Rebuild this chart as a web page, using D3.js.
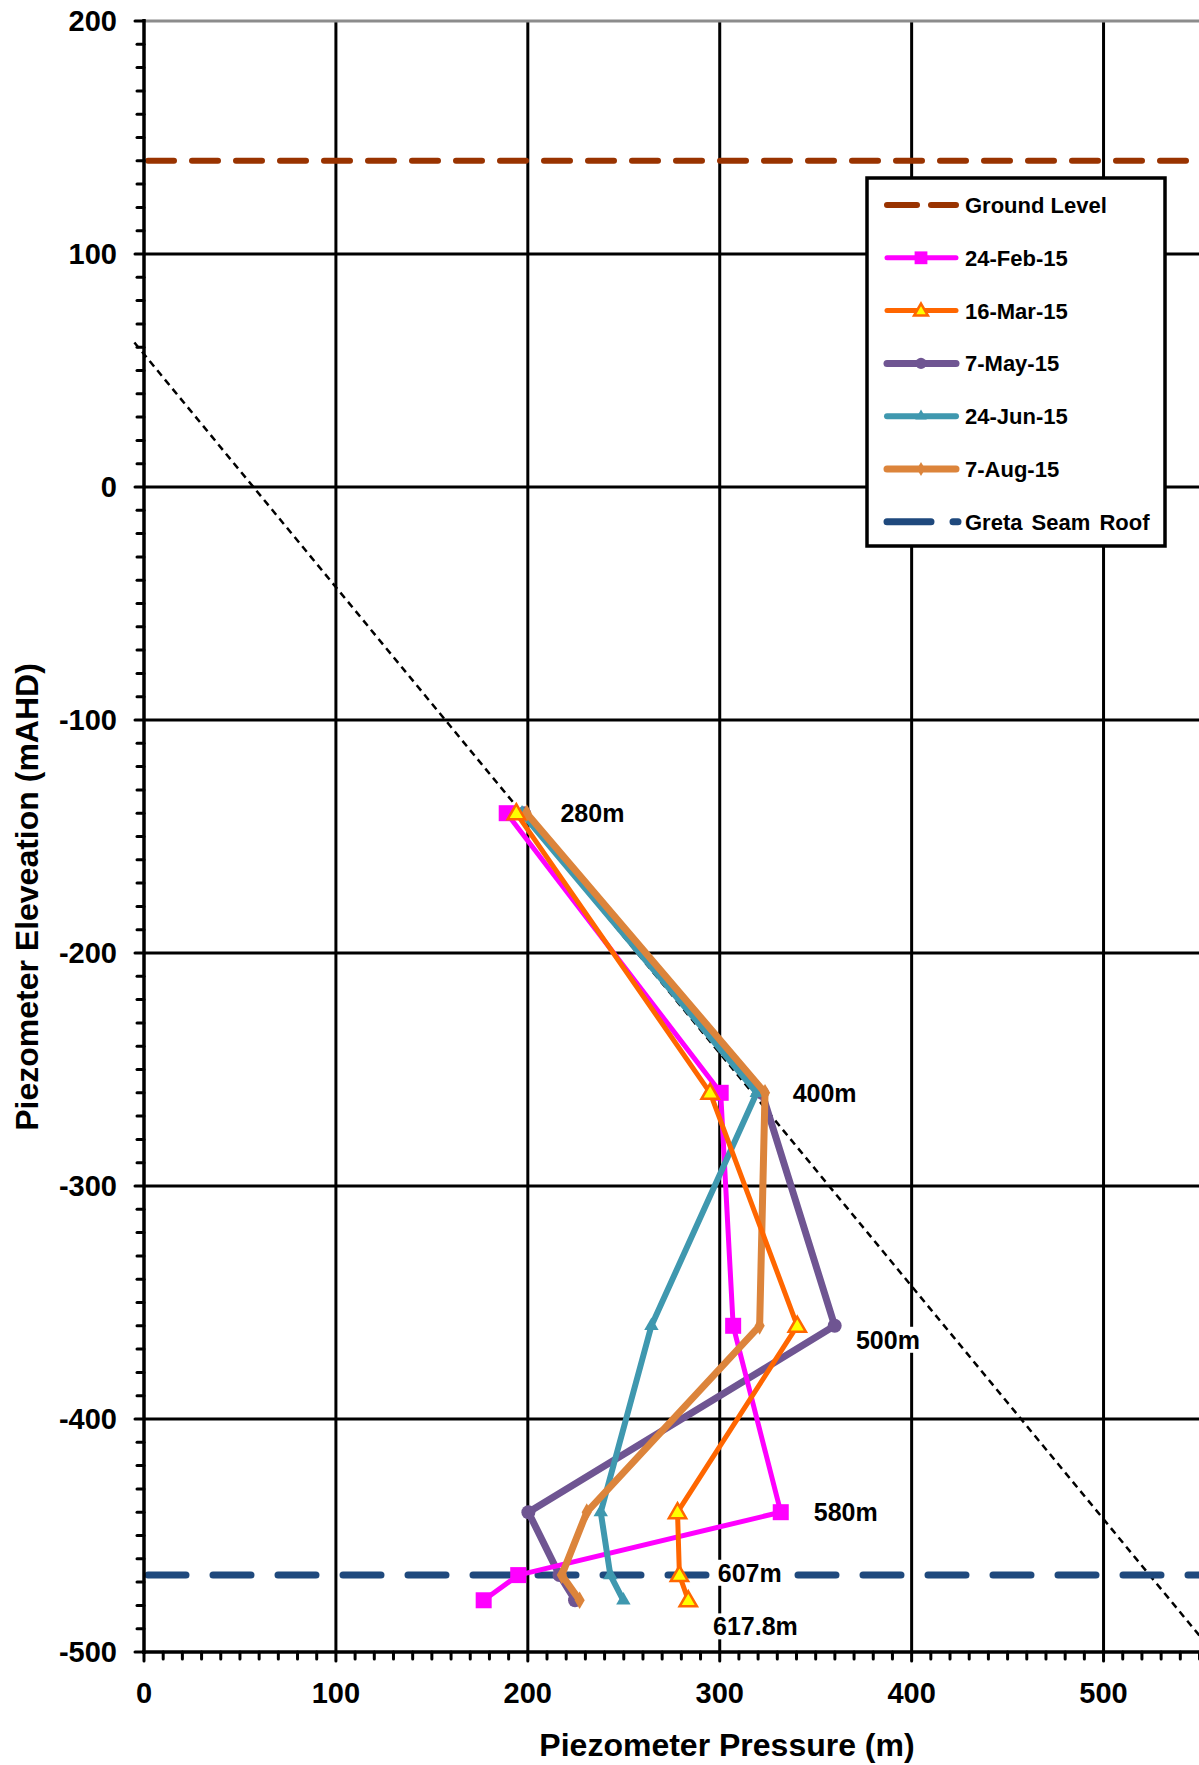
<!DOCTYPE html>
<html><head><meta charset="utf-8">
<script src="https://cdn.jsdelivr.net/npm/d3@7"></script>
<style>body{margin:0;background:#fff}svg{display:block}text{font-family:"Liberation Sans",Arial,sans-serif;font-weight:bold}</style>
</head><body>
<script>
// ---- data ----
const xTicks = [0,100,200,300,400,500];
const yTicks = [200,100,0,-100,-200,-300,-400,-500];
const groundLevel = 140;
const seamRoof = -467;
const depthLabels = ["280m","400m","500m","580m","607m","617.8m"];
const elevations = [-140,-260,-360,-440,-467,-477.8];
const feb24 = [189,300.5,307,331.8,195,177];
const mar16 = [194,295,340.4,278,279,283.6];
const may7  = [198,322,359.9,200.3,216.5,224.6];
const jun24 = [197,319.3,264.4,238,243,249.8];
const aug7  = [199.4,323.6,320.8,230.7,217.7,227];
const hydroLine = [[-5,62],[550,-493]];
const seriesNames = ["24-Feb-15","16-Mar-15","7-May-15","24-Jun-15","7-Aug-15"];

// ---- layout ----
const W=1199,H=1765;
const L=144,R=1199.5,T=21,B=1652;
const x=d3.scaleLinear().domain([0,550]).range([L,R]);
const y=d3.scaleLinear().domain([-500,200]).range([B,T]);
const svg=d3.select("body").append("svg").attr("width",W).attr("height",H);

svg.append("defs").append("clipPath").attr("id","pc").append("rect")
  .attr("x",L-20).attr("y",T-4).attr("width",R-L+20).attr("height",B-T+8);

// grid
svg.append("g").selectAll("line").data(xTicks.filter(d=>d>0)).join("line")
  .attr("x1",d=>x(d)).attr("x2",d=>x(d)).attr("y1",T).attr("y2",B)
  .attr("stroke","#000").attr("stroke-width",3);
svg.append("g").selectAll("line").data(yTicks.filter(d=>d>-500&&d<200)).join("line")
  .attr("x1",L).attr("x2",R).attr("y1",d=>y(d)).attr("y2",d=>y(d))
  .attr("stroke","#000").attr("stroke-width",3);
svg.append("line").attr("x1",L).attr("x2",R).attr("y1",y(200)).attr("y2",y(200))
  .attr("stroke","#8c8c8c").attr("stroke-width",3);

const plot=svg.append("g").attr("clip-path","url(#pc)");

// hydrostatic dotted line
plot.append("line").attr("x1",x(hydroLine[0][0])).attr("y1",y(hydroLine[0][1]))
  .attr("x2",x(hydroLine[1][0])).attr("y2",y(hydroLine[1][1]))
  .attr("stroke","#000").attr("stroke-width",2.5).attr("stroke-dasharray","7,5");

// ground level
plot.append("line").attr("x1",L+4).attr("x2",R).attr("y1",y(groundLevel)).attr("y2",y(groundLevel))
  .attr("stroke","#993300").attr("stroke-width",6).attr("stroke-linecap","round").attr("stroke-dasharray","26,18");

// seam roof
plot.append("line").attr("x1",L+4).attr("x2",R).attr("y1",y(seamRoof)).attr("y2",y(seamRoof))
  .attr("stroke","#1F497D").attr("stroke-width",7).attr("stroke-linecap","round").attr("stroke-dasharray","38,27");

// depth labels with white background
const labelPos=[[217,-140],[338,-260],[371,-366],[349,-440],[299,-466],[296.5,-489]];
const lg=svg.append("g");
depthLabels.forEach((t,i)=>{
  const tx=x(labelPos[i][0]), ty=y(labelPos[i][1]);
  const txt=lg.append("text").attr("x",tx).attr("y",ty).attr("dy","0.36em")
    .attr("font-size",25).text(t);
  const bb=txt.node().getBBox();
  lg.insert("rect","text").attr("x",bb.x-4).attr("y",bb.y+1).attr("width",bb.width+14).attr("height",bb.height-2).attr("fill","#fff");
});

// series
const series=[
  {name:"7-May-15",vals:may7,color:"#6F5592",w:7,marker:"circle"},
  {name:"24-Feb-15",vals:feb24,color:"#FF00FF",w:5,marker:"square"},
  {name:"24-Jun-15",vals:jun24,color:"#3F98AF",w:6,marker:"triangleSmall"},
  {name:"7-Aug-15",vals:aug7,color:"#DC843B",w:7,marker:"diamond"},
  {name:"16-Mar-15",vals:mar16,color:"#FF6600",w:5,marker:"triangleOpen"}
];
const lineGen=d3.line().x(d=>x(d[0])).y(d=>y(d[1]));
function drawMarker(g,type,cx,cy,color,sc){
  sc=sc||1;
  if(type==="square") g.append("rect").attr("x",cx-8*sc).attr("y",cy-8*sc).attr("width",16*sc).attr("height",16*sc).attr("fill",color);
  else if(type==="circle") g.append("circle").attr("cx",cx).attr("cy",cy).attr("r",7*sc).attr("fill",color);
  else if(type==="diamond") g.append("path").attr("d",d3.symbol(d3.symbolDiamond,90*sc*sc)()).attr("transform",`translate(${cx},${cy})`).attr("fill",color);
  else if(type==="triangleSmall") g.append("path").attr("d",d3.symbol(d3.symbolTriangle,90*sc*sc)()).attr("transform",`translate(${cx},${cy})`).attr("fill",color);
  else if(type==="triangleOpen") g.append("path").attr("d",d3.symbol(d3.symbolTriangle,130*sc*sc)()).attr("transform",`translate(${cx},${cy+1})`).attr("fill","#FFFF00").attr("stroke",color).attr("stroke-width",2.5);
}
series.forEach(s=>{
  const pts=s.vals.map((v,i)=>[v,elevations[i]]);
  const g=plot.append("g");
  g.append("path").attr("d",lineGen(pts)).attr("fill","none").attr("stroke",s.color)
    .attr("stroke-width",s.w).attr("stroke-linejoin","round").attr("stroke-linecap","round");
  pts.forEach(p=>drawMarker(g,s.marker,x(p[0]),y(p[1]),s.color));
});

// axes
svg.append("line").attr("x1",L).attr("x2",L).attr("y1",T-2).attr("y2",B+2).attr("stroke","#000").attr("stroke-width",3.5);
svg.append("line").attr("x1",L-2).attr("x2",R).attr("y1",B).attr("y2",B).attr("stroke","#000").attr("stroke-width",3.5);
const yMinor=d3.range(-500,201,10), xMinor=d3.range(0,551,10);
svg.append("g").selectAll("line").data(yMinor).join("line")
  .attr("x1",d=>yTicks.includes(d)?L-9:L-7).attr("x2",L).attr("y1",d=>y(d)).attr("y2",d=>y(d))
  .attr("stroke","#000").attr("stroke-width",3).attr("stroke-linecap","round");
svg.append("g").selectAll("line").data(xMinor).join("line")
  .attr("y1",B).attr("y2",d=>xTicks.includes(d)?B+9:B+7).attr("x1",d=>x(d)).attr("x2",d=>x(d))
  .attr("stroke","#000").attr("stroke-width",3).attr("stroke-linecap","round");
svg.append("g").selectAll("text").data(yTicks).join("text")
  .attr("x",117).attr("y",d=>y(d)).attr("dy","0.36em").attr("text-anchor","end")
  .attr("font-size",29).text(d=>d);
svg.append("g").selectAll("text").data(xTicks).join("text")
  .attr("x",d=>x(d)).attr("y",1703).attr("text-anchor","middle")
  .attr("font-size",29).text(d=>d);
svg.append("text").attr("x",727).attr("y",1756).attr("text-anchor","middle").attr("font-size",32)
  .text("Piezometer Pressure (m)");
svg.append("text").attr("transform","translate(38,897) rotate(-90)").attr("text-anchor","middle").attr("font-size",32)
  .text("Piezometer Eleveation (mAHD)");

// legend
const leg=svg.append("g");
leg.append("rect").attr("x",867).attr("y",178).attr("width",298).attr("height",368)
  .attr("fill","#fff").attr("stroke","#000").attr("stroke-width",3.5);
const legY=d3.range(7).map(i=>205+i*52.8);
const lx1=887,lx2=956,lxm=921;
leg.append("line").attr("x1",lx1).attr("x2",lx2).attr("y1",legY[0]).attr("y2",legY[0])
  .attr("stroke","#993300").attr("stroke-width",6).attr("stroke-linecap","round").attr("stroke-dasharray","30,14");
leg.append("text").attr("x",965).attr("y",legY[0]).attr("dy","0.36em").attr("font-size",22).text("Ground Level");
seriesNames.forEach((n,i)=>{
  const s=series.find(z=>z.name===n);
  const yy=legY[i+1];
  leg.append("line").attr("x1",lx1).attr("x2",lx2).attr("y1",yy).attr("y2",yy)
    .attr("stroke",s.color).attr("stroke-width",s.w).attr("stroke-linecap","round");
  drawMarker(leg,s.marker,lxm,yy,s.color,0.8);
  leg.append("text").attr("x",965).attr("y",yy).attr("dy","0.36em").attr("font-size",22).text(n);
});
leg.append("line").attr("x1",lx1).attr("x2",lx2+2).attr("y1",legY[6]).attr("y2",legY[6])
  .attr("stroke","#1F497D").attr("stroke-width",7).attr("stroke-linecap","round").attr("stroke-dasharray","44,22");
leg.append("text").attr("x",965).attr("y",legY[6]).attr("dy","0.36em").attr("font-size",22).attr("word-spacing",3).text("Greta Seam Roof");
</script>
</body></html>
